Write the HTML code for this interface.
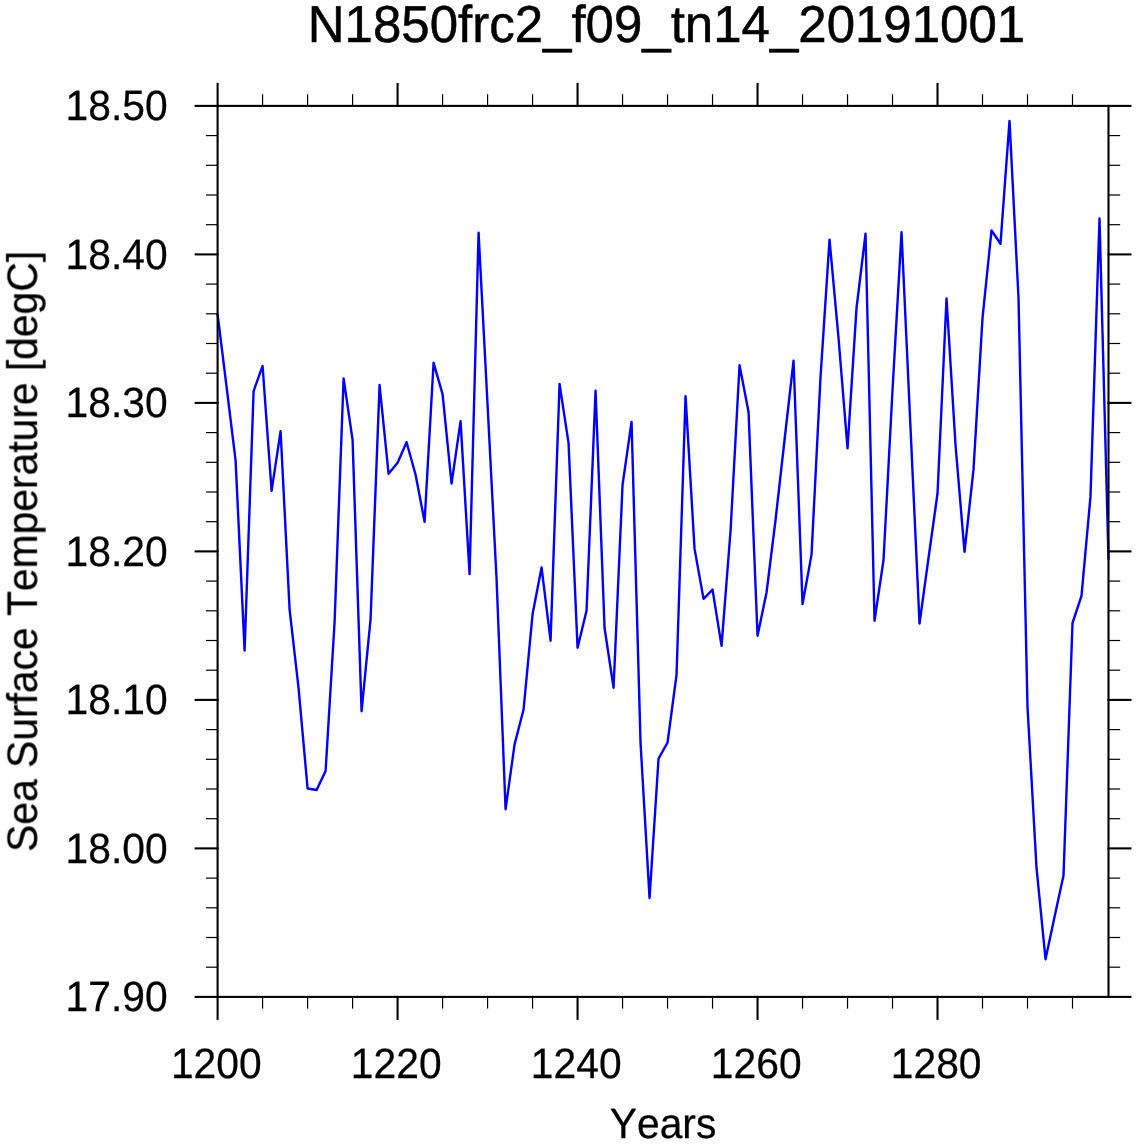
<!DOCTYPE html>
<html><head><meta charset="utf-8"><title>N1850frc2_f09_tn14_20191001</title>
<style>
html,body{margin:0;padding:0;background:#fff;overflow:hidden;}
svg{display:block;}
text{font-family:"Liberation Sans",Arial,Helvetica,sans-serif;fill:#000;font-kerning:none;text-rendering:geometricPrecision;}
.mj{stroke:#000;stroke-width:2.1;}
.mn{stroke:#000;stroke-width:1.2;}
</style></head>
<body>
<svg width="1137" height="1144" viewBox="0 0 1137 1144">
<defs><filter id="gs" filterUnits="userSpaceOnUse" x="0" y="0" width="1137" height="1144"><feColorMatrix type="saturate" values="0"/></filter></defs>
<rect width="1137" height="1144" fill="#fff"/>
<g filter="url(#gs)">
<text transform="translate(666.45,42.25) scale(1,1.02)" font-size="51" stroke="#000" stroke-width="0.5" text-anchor="middle">N1850frc2_f09_tn14_20191001</text>
<g font-size="40.8" stroke="#000" stroke-width="0.25">
<text transform="translate(167.6,120.40) scale(1,1.04)" text-anchor="end">18.50</text>
<text transform="translate(167.6,268.90) scale(1,1.04)" text-anchor="end">18.40</text>
<text transform="translate(167.6,417.40) scale(1,1.04)" text-anchor="end">18.30</text>
<text transform="translate(167.6,565.90) scale(1,1.04)" text-anchor="end">18.20</text>
<text transform="translate(167.6,714.40) scale(1,1.04)" text-anchor="end">18.10</text>
<text transform="translate(167.6,862.90) scale(1,1.04)" text-anchor="end">18.00</text>
<text transform="translate(167.6,1011.40) scale(1,1.04)" text-anchor="end">17.90</text>
<text transform="translate(216.25,1078.1) scale(1,1.04)" text-anchor="middle">1200</text>
<text transform="translate(396.23,1078.1) scale(1,1.04)" text-anchor="middle">1220</text>
<text transform="translate(576.21,1078.1) scale(1,1.04)" text-anchor="middle">1240</text>
<text transform="translate(756.19,1078.1) scale(1,1.04)" text-anchor="middle">1260</text>
<text transform="translate(936.17,1078.1) scale(1,1.04)" text-anchor="middle">1280</text>
</g>
<text transform="translate(663.05,1137.8) scale(1,1.04)" font-size="40.8" stroke="#000" stroke-width="0.25" text-anchor="middle">Years</text>
<text transform="translate(36.3,551.40) rotate(-90) scale(1,1.04)" font-size="40.8" stroke="#000" stroke-width="0.25" text-anchor="middle">Sea Surface Temperature [degC]</text>
</g>
<polyline points="217.60,314.50 226.60,387.00 235.60,460.60 244.60,650.60 253.60,391.10 262.59,366.00 271.59,490.90 280.59,431.20 289.59,609.30 298.59,688.40 307.59,788.50 316.59,790.00 325.59,771.00 334.59,622.00 343.59,378.50 352.58,439.90 361.58,711.20 370.58,619.00 379.58,385.00 388.58,473.80 397.58,462.80 406.58,442.20 415.58,474.80 424.58,521.70 433.58,362.80 442.57,394.10 451.57,483.60 460.57,421.10 469.57,574.10 478.57,232.70 487.57,405.00 496.57,579.00 505.57,809.30 514.57,744.40 523.57,709.50 532.56,614.30 541.56,567.50 550.56,640.70 559.56,383.90 568.56,443.10 577.56,647.70 586.56,610.60 595.56,390.80 604.56,628.00 613.56,687.80 622.55,484.90 631.55,421.90 640.55,743.00 649.55,898.00 658.55,758.70 667.55,742.50 676.55,674.60 685.55,396.10 694.55,548.90 703.55,598.90 712.54,589.60 721.54,645.90 730.54,531.00 739.54,365.30 748.54,411.90 757.54,635.80 766.54,592.50 775.54,520.00 784.54,440.00 793.54,360.70 802.53,604.10 811.53,554.60 820.53,377.00 829.53,239.70 838.53,338.00 847.53,448.40 856.53,308.00 865.53,233.70 874.53,620.80 883.53,560.00 892.52,390.00 901.52,232.30 910.52,428.00 919.52,623.50 928.52,558.00 937.52,493.50 946.52,298.50 955.52,445.00 964.52,551.80 973.52,469.40 982.51,318.10 991.51,230.50 1000.51,243.70 1009.51,120.90 1018.51,298.00 1027.51,707.00 1036.51,867.70 1045.51,959.20 1054.51,917.00 1063.51,875.60 1072.50,623.00 1081.50,595.80 1090.50,496.40 1099.50,218.50 1108.50,559.00" fill="none" stroke="#0000ff" stroke-width="2.4" stroke-linejoin="round" stroke-linecap="round"/>
<line x1="217.60" y1="995.90" x2="217.60" y2="1019.90" class="mj"/>
<line x1="217.60" y1="106.90" x2="217.60" y2="82.90" class="mj"/>
<line x1="262.59" y1="996.90" x2="262.59" y2="1008.60" class="mn"/>
<line x1="262.59" y1="105.90" x2="262.59" y2="94.20" class="mn"/>
<line x1="307.59" y1="996.90" x2="307.59" y2="1008.60" class="mn"/>
<line x1="307.59" y1="105.90" x2="307.59" y2="94.20" class="mn"/>
<line x1="352.58" y1="996.90" x2="352.58" y2="1008.60" class="mn"/>
<line x1="352.58" y1="105.90" x2="352.58" y2="94.20" class="mn"/>
<line x1="397.58" y1="995.90" x2="397.58" y2="1019.90" class="mj"/>
<line x1="397.58" y1="106.90" x2="397.58" y2="82.90" class="mj"/>
<line x1="442.57" y1="996.90" x2="442.57" y2="1008.60" class="mn"/>
<line x1="442.57" y1="105.90" x2="442.57" y2="94.20" class="mn"/>
<line x1="487.57" y1="996.90" x2="487.57" y2="1008.60" class="mn"/>
<line x1="487.57" y1="105.90" x2="487.57" y2="94.20" class="mn"/>
<line x1="532.56" y1="996.90" x2="532.56" y2="1008.60" class="mn"/>
<line x1="532.56" y1="105.90" x2="532.56" y2="94.20" class="mn"/>
<line x1="577.56" y1="995.90" x2="577.56" y2="1019.90" class="mj"/>
<line x1="577.56" y1="106.90" x2="577.56" y2="82.90" class="mj"/>
<line x1="622.55" y1="996.90" x2="622.55" y2="1008.60" class="mn"/>
<line x1="622.55" y1="105.90" x2="622.55" y2="94.20" class="mn"/>
<line x1="667.55" y1="996.90" x2="667.55" y2="1008.60" class="mn"/>
<line x1="667.55" y1="105.90" x2="667.55" y2="94.20" class="mn"/>
<line x1="712.54" y1="996.90" x2="712.54" y2="1008.60" class="mn"/>
<line x1="712.54" y1="105.90" x2="712.54" y2="94.20" class="mn"/>
<line x1="757.54" y1="995.90" x2="757.54" y2="1019.90" class="mj"/>
<line x1="757.54" y1="106.90" x2="757.54" y2="82.90" class="mj"/>
<line x1="802.53" y1="996.90" x2="802.53" y2="1008.60" class="mn"/>
<line x1="802.53" y1="105.90" x2="802.53" y2="94.20" class="mn"/>
<line x1="847.53" y1="996.90" x2="847.53" y2="1008.60" class="mn"/>
<line x1="847.53" y1="105.90" x2="847.53" y2="94.20" class="mn"/>
<line x1="892.52" y1="996.90" x2="892.52" y2="1008.60" class="mn"/>
<line x1="892.52" y1="105.90" x2="892.52" y2="94.20" class="mn"/>
<line x1="937.52" y1="995.90" x2="937.52" y2="1019.90" class="mj"/>
<line x1="937.52" y1="106.90" x2="937.52" y2="82.90" class="mj"/>
<line x1="982.51" y1="996.90" x2="982.51" y2="1008.60" class="mn"/>
<line x1="982.51" y1="105.90" x2="982.51" y2="94.20" class="mn"/>
<line x1="1027.51" y1="996.90" x2="1027.51" y2="1008.60" class="mn"/>
<line x1="1027.51" y1="105.90" x2="1027.51" y2="94.20" class="mn"/>
<line x1="1072.50" y1="996.90" x2="1072.50" y2="1008.60" class="mn"/>
<line x1="1072.50" y1="105.90" x2="1072.50" y2="94.20" class="mn"/>
<line x1="218.60" y1="996.90" x2="194.60" y2="996.90" class="mj"/>
<line x1="1107.50" y1="996.90" x2="1131.50" y2="996.90" class="mj"/>
<line x1="217.60" y1="967.20" x2="205.90" y2="967.20" class="mn"/>
<line x1="1108.50" y1="967.20" x2="1120.20" y2="967.20" class="mn"/>
<line x1="217.60" y1="937.50" x2="205.90" y2="937.50" class="mn"/>
<line x1="1108.50" y1="937.50" x2="1120.20" y2="937.50" class="mn"/>
<line x1="217.60" y1="907.80" x2="205.90" y2="907.80" class="mn"/>
<line x1="1108.50" y1="907.80" x2="1120.20" y2="907.80" class="mn"/>
<line x1="217.60" y1="878.10" x2="205.90" y2="878.10" class="mn"/>
<line x1="1108.50" y1="878.10" x2="1120.20" y2="878.10" class="mn"/>
<line x1="218.60" y1="848.40" x2="194.60" y2="848.40" class="mj"/>
<line x1="1107.50" y1="848.40" x2="1131.50" y2="848.40" class="mj"/>
<line x1="217.60" y1="818.70" x2="205.90" y2="818.70" class="mn"/>
<line x1="1108.50" y1="818.70" x2="1120.20" y2="818.70" class="mn"/>
<line x1="217.60" y1="789.00" x2="205.90" y2="789.00" class="mn"/>
<line x1="1108.50" y1="789.00" x2="1120.20" y2="789.00" class="mn"/>
<line x1="217.60" y1="759.30" x2="205.90" y2="759.30" class="mn"/>
<line x1="1108.50" y1="759.30" x2="1120.20" y2="759.30" class="mn"/>
<line x1="217.60" y1="729.60" x2="205.90" y2="729.60" class="mn"/>
<line x1="1108.50" y1="729.60" x2="1120.20" y2="729.60" class="mn"/>
<line x1="218.60" y1="699.90" x2="194.60" y2="699.90" class="mj"/>
<line x1="1107.50" y1="699.90" x2="1131.50" y2="699.90" class="mj"/>
<line x1="217.60" y1="670.20" x2="205.90" y2="670.20" class="mn"/>
<line x1="1108.50" y1="670.20" x2="1120.20" y2="670.20" class="mn"/>
<line x1="217.60" y1="640.50" x2="205.90" y2="640.50" class="mn"/>
<line x1="1108.50" y1="640.50" x2="1120.20" y2="640.50" class="mn"/>
<line x1="217.60" y1="610.80" x2="205.90" y2="610.80" class="mn"/>
<line x1="1108.50" y1="610.80" x2="1120.20" y2="610.80" class="mn"/>
<line x1="217.60" y1="581.10" x2="205.90" y2="581.10" class="mn"/>
<line x1="1108.50" y1="581.10" x2="1120.20" y2="581.10" class="mn"/>
<line x1="218.60" y1="551.40" x2="194.60" y2="551.40" class="mj"/>
<line x1="1107.50" y1="551.40" x2="1131.50" y2="551.40" class="mj"/>
<line x1="217.60" y1="521.70" x2="205.90" y2="521.70" class="mn"/>
<line x1="1108.50" y1="521.70" x2="1120.20" y2="521.70" class="mn"/>
<line x1="217.60" y1="492.00" x2="205.90" y2="492.00" class="mn"/>
<line x1="1108.50" y1="492.00" x2="1120.20" y2="492.00" class="mn"/>
<line x1="217.60" y1="462.30" x2="205.90" y2="462.30" class="mn"/>
<line x1="1108.50" y1="462.30" x2="1120.20" y2="462.30" class="mn"/>
<line x1="217.60" y1="432.60" x2="205.90" y2="432.60" class="mn"/>
<line x1="1108.50" y1="432.60" x2="1120.20" y2="432.60" class="mn"/>
<line x1="218.60" y1="402.90" x2="194.60" y2="402.90" class="mj"/>
<line x1="1107.50" y1="402.90" x2="1131.50" y2="402.90" class="mj"/>
<line x1="217.60" y1="373.20" x2="205.90" y2="373.20" class="mn"/>
<line x1="1108.50" y1="373.20" x2="1120.20" y2="373.20" class="mn"/>
<line x1="217.60" y1="343.50" x2="205.90" y2="343.50" class="mn"/>
<line x1="1108.50" y1="343.50" x2="1120.20" y2="343.50" class="mn"/>
<line x1="217.60" y1="313.80" x2="205.90" y2="313.80" class="mn"/>
<line x1="1108.50" y1="313.80" x2="1120.20" y2="313.80" class="mn"/>
<line x1="217.60" y1="284.10" x2="205.90" y2="284.10" class="mn"/>
<line x1="1108.50" y1="284.10" x2="1120.20" y2="284.10" class="mn"/>
<line x1="218.60" y1="254.40" x2="194.60" y2="254.40" class="mj"/>
<line x1="1107.50" y1="254.40" x2="1131.50" y2="254.40" class="mj"/>
<line x1="217.60" y1="224.70" x2="205.90" y2="224.70" class="mn"/>
<line x1="1108.50" y1="224.70" x2="1120.20" y2="224.70" class="mn"/>
<line x1="217.60" y1="195.00" x2="205.90" y2="195.00" class="mn"/>
<line x1="1108.50" y1="195.00" x2="1120.20" y2="195.00" class="mn"/>
<line x1="217.60" y1="165.30" x2="205.90" y2="165.30" class="mn"/>
<line x1="1108.50" y1="165.30" x2="1120.20" y2="165.30" class="mn"/>
<line x1="217.60" y1="135.60" x2="205.90" y2="135.60" class="mn"/>
<line x1="1108.50" y1="135.60" x2="1120.20" y2="135.60" class="mn"/>
<line x1="218.60" y1="105.90" x2="194.60" y2="105.90" class="mj"/>
<line x1="1107.50" y1="105.90" x2="1131.50" y2="105.90" class="mj"/>
<rect x="217.60" y="105.90" width="890.90" height="891.00" fill="none" stroke="#000" stroke-width="2.1"/>
</svg>
</body></html>
